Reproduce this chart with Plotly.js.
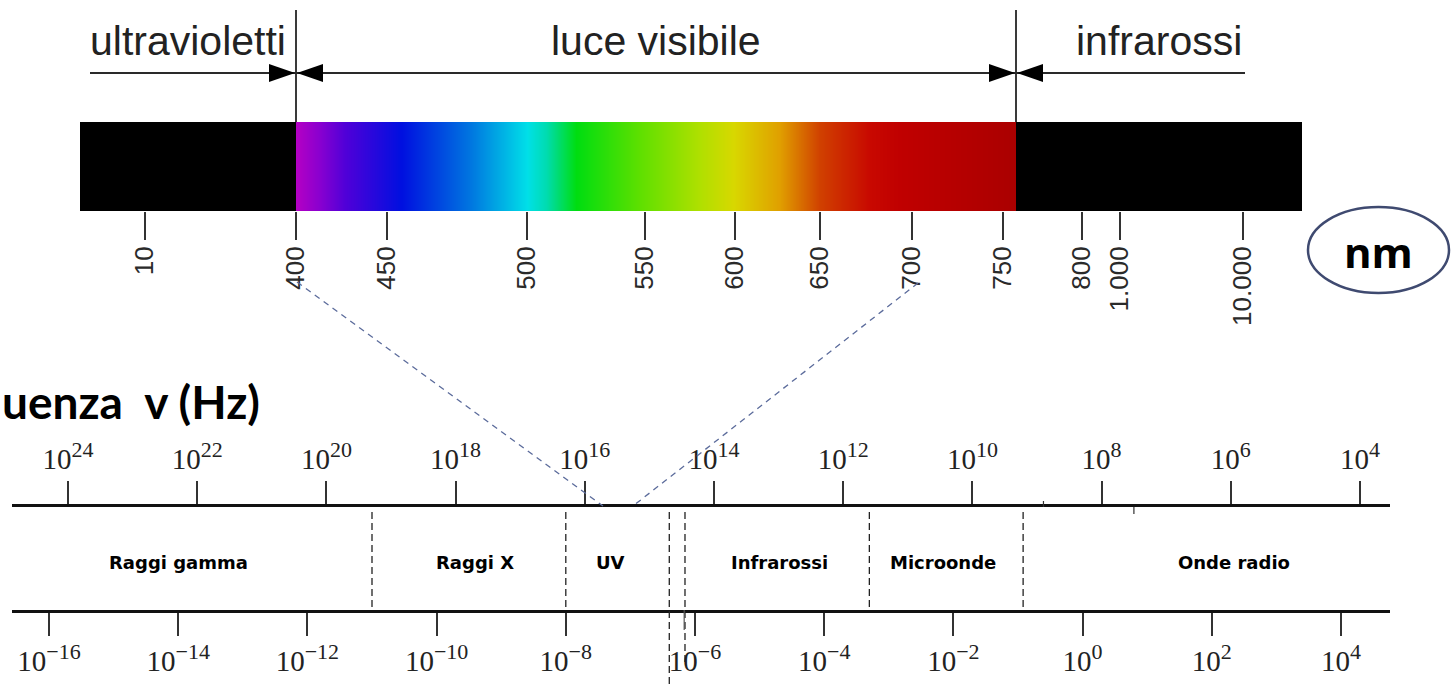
<!DOCTYPE html>
<html><head><meta charset="utf-8">
<script src="https://cdn.plot.ly/plotly-3.0.1.min.js"></script>
<style>html,body{margin:0;padding:0;background:#fff}</style>
</head><body><div id="chart" style="width:1451px;height:686px"></div>
<script>
// ---------------- DATA ----------------
const nmTicks = [10, 400, 450, 500, 550, 600, 650, 700, 750, 800, 1000, 10000];
const nmTickLabels = ['10','400','450','500','550','600','650','700','750','800','1.000','10.000'];
const visibleRangeNm = [400, 760];
const regionNames = ['ultravioletti', 'luce visibile', 'infrarossi'];
const spectrumNm = [400, 413, 427, 455, 480, 500, 508, 521, 548, 580, 599, 626, 650, 677, 693, 740, 760];
const spectrumColors = ['#b400c4','#8a00d0','#5000d8','#0010e0','#0078e0','#00e0e8','#00dcb0','#00dd10','#60e000','#b0e000','#d8d800','#e0a000','#d04000','#c80800','#c00000','#b00000','#aa0000'];
const freqExponents = [24, 22, 20, 18, 16, 14, 12, 10, 8, 6, 4];
const wlExponents = [-16, -14, -12, -10, -8, -6, -4, -2, 0, 2, 4];
const bandNames = ['Raggi gamma', 'Raggi X', 'UV', 'Infrarossi', 'Microonde', 'Onde radio'];
const bandBoundariesM = [1e-11, 1e-8, 4e-7, 7e-7, 5e-4, 1.2e-1];
const bandLabelM = [1e-14, 4e-10, 5e-8, 2e-5, 7e-3, 2.2e2];
const freqTitle = 'uenza  v (Hz)';
const unitLabel = 'nm';

// ---------------- SCALES / LAYOUT CONSTANTS ----------------
const W = 1451, H = 686;
const px = p => p / W, py = p => 1 - p / H;
// schematic (non-uniform) wavelength scale of the upper bar
const nmScale = [[10,145],[400,296],[450,387],[500,527],[550,645],[600,735],[650,820],[700,912],[750,1003],[760,1016],[800,1082],[1000,1120],[10000,1243]];
function nmToPos(nm) {
  for (let i = 0; i < nmScale.length - 1; i++) {
    const [a, pa] = nmScale[i], [b, pb] = nmScale[i + 1];
    if (nm <= b || i === nmScale.length - 2) return pa + (nm - a) / (b - a) * (pb - pa);
  }
}
const barL = 80, barR = 1302, barTop = 122, barBot = 211;
const lineL = 12, lineR = 1390, lineTop = 507, lineBot = 610;
const decade = 64.6;
const freqRange = [24 + (68 - lineL) / decade, 24 - (lineR - 68) / decade];
const wlRange = [-16 - (49 - lineL) / decade, -16 + (lineR - 49) / decade];

const sup = s => '10<sup><span style="font-size:22px">' + s + '</span></sup>';
const fmtExp = e => (e < 0 ? '\u2212' + (-e) : String(e));

const pV0 = nmToPos(visibleRangeNm[0]), pV1 = nmToPos(visibleRangeNm[1]);
const arrowY = 73;

// ---------------- TRACES ----------------
const zmin = spectrumNm[0], zmax = spectrumNm[spectrumNm.length - 1];
const colorscale = spectrumNm.map((w, i) => [(w - zmin) / (zmax - zmin), spectrumColors[i]]);
const traces = [
  {
    type: 'heatmap', xaxis: 'x', yaxis: 'y',
    x: spectrumNm.map(nmToPos), y: [barTop, (barTop + barBot) / 2, barBot],
    z: [spectrumNm, spectrumNm], zmin, zmax, colorscale, zsmooth: 'best',
    showscale: false, hoverinfo: 'skip'
  },
  { type: 'scatter', xaxis: 'x2', yaxis: 'y2', x: [1e10], y: [5], mode: 'markers', hoverinfo: 'skip', showlegend: false },
  { type: 'scatter', xaxis: 'x3', yaxis: 'y2', x: [1e-3], y: [5], mode: 'markers', hoverinfo: 'skip', showlegend: false }
];

// ---------------- SHAPES ----------------
const shapes = [];
shapes.push({type:'rect', xref:'x', yref:'y', x0:barL, x1:pV0, y0:barTop, y1:barBot, fillcolor:'#000', line:{width:0}, layer:'above'});
shapes.push({type:'rect', xref:'x', yref:'y', x0:pV1, x1:barR, y0:barTop, y1:barBot, fillcolor:'#000', line:{width:0}, layer:'above'});
[pV0, pV1].forEach(p => shapes.push({type:'line', xref:'x', yref:'y', x0:p, x1:p, y0:10, y1:barTop, line:{color:'#3a3a3a', width:2}}));
[[90, pV0], [pV0, pV1], [pV1, nmToPos(10000) + 2]].forEach(([a, b]) =>
  shapes.push({type:'line', xref:'x', yref:'y', x0:a, x1:b, y0:arrowY, y1:arrowY, line:{color:'#2a2a2a', width:2}}));
function head(tip, dir) {
  const b = tip + dir * 26;
  return {type:'path', xref:'x', yref:'y', path:`M ${tip},${arrowY} L ${b},${arrowY - 9} L ${b},${arrowY + 9} Z`, fillcolor:'#000', line:{width:0}};
}
shapes.push(head(pV0 - 1, -1), head(pV0 + 1, 1), head(pV1 - 1, -1), head(pV1 + 1, 1));
const bandLineBottom = [607, 609, 686, 662, 607, 607];
bandBoundariesM.forEach((b, i) => shapes.push({type:'line', xref:'x3', yref:'paper', x0:b, x1:b, y0:py(lineTop + 5), y1:py(bandLineBottom[i]), line:{color:'#222', width:1.3, dash:'7px,4px'}}));
// small stray marks on the frequency line
shapes.push({type:'line', xref:'x2', yref:'paper', x0:Math.pow(10, 8.9), x1:Math.pow(10, 8.9), y0:py(lineTop - 6), y1:py(lineTop), line:{color:'#333', width:1.2}});
shapes.push({type:'line', xref:'x2', yref:'paper', x0:Math.pow(10, 7.5), x1:Math.pow(10, 7.5), y0:py(lineTop), y1:py(lineTop + 7), line:{color:'#333', width:1.2}});
shapes.push({type:'line', xref:'x3', yref:'paper', x0:6.8e-7, x1:6.8e-7, y0:py(lineBot), y1:py(lineBot + 20), line:{color:'#555', width:1.2}});
// connector lines
shapes.push({type:'line', xref:'paper', yref:'paper', x0:px(nmToPos(400) + 1), y0:py(282), x1:px(603), y1:py(lineTop - 1), line:{color:'#5b6b9b', width:1.3, dash:'6px,5px'}});
shapes.push({type:'line', xref:'paper', yref:'paper', x0:px(nmToPos(700) + 6), y0:py(283), x1:px(633), y1:py(lineTop - 1), line:{color:'#5b6b9b', width:1.3, dash:'6px,5px'}});
shapes.push({type:'circle', xref:'paper', yref:'paper', x0:px(1308), x1:px(1449), y0:py(207), y1:py(293), line:{color:'#3f4a70', width:2.5}});

// ---------------- ANNOTATIONS ----------------
const annotations = [];
const regionCenters = [(barL + pV0) / 2, (pV0 + pV1) / 2, (pV1 + barR) / 2];
regionNames.forEach((t, i) => annotations.push({xref:'x', yref:'y', x:regionCenters[i], y:41, text:t, showarrow:false,
  xanchor:'center', yanchor:'middle', font:{family:'Liberation Sans, Arial, sans-serif', size:41, color:'#222'}}));
bandNames.forEach((t, i) => annotations.push({xref:'x3', yref:'y2', x:Math.log10(bandLabelM[i]), y:0.46, text:'<b>' + t + '</b>', showarrow:false,
  xanchor:'center', yanchor:'middle', font:{family:'DejaVu Sans, sans-serif', size:18, color:'#000'}}));
annotations.push({xref:'paper', yref:'paper', x:0, y:py(401), text:'<b>' + freqTitle + '</b>', showarrow:false,
  xanchor:'left', yanchor:'middle', font:{family:'Lato, Open Sans, sans-serif', size:46, color:'#000'}});
annotations.push({xref:'paper', yref:'paper', x:px(1378), y:py(252), text:'<b>' + unitLabel + '</b>', showarrow:false,
  xanchor:'center', yanchor:'middle', font:{family:'Open Sans, sans-serif', size:42, color:'#000'}});

// ---------------- LAYOUT ----------------
const serif = {family:'Liberation Serif, Times New Roman, serif', size:29, color:'#222'};
const layout = {
  width: W, height: H, margin: {l:0, r:0, t:0, b:0},
  paper_bgcolor: '#fff', plot_bgcolor: 'rgba(0,0,0,0)', showlegend: false,
  xaxis: {domain:[px(barL), px(barR)], range:[barL, barR], anchor:'y', showgrid:false, zeroline:false, showline:false,
    ticks:'outside', ticklen:28, tickwidth:2, tickcolor:'#333', ticklabelstandoff:-4,
    tickmode:'array', tickvals:nmTicks.map(nmToPos), ticktext:nmTickLabels, tickangle:-90,
    tickfont:{family:'Liberation Sans, Arial, sans-serif', size:26, color:'#2a2a2a'}, fixedrange:true},
  yaxis: {domain:[py(barBot), 1], range:[barBot, 0], visible:false, fixedrange:true},
  xaxis2: {type:'log', domain:[px(lineL), px(lineR)], range:freqRange, anchor:'y2', side:'top',
    showline:true, linewidth:3, linecolor:'#111', showgrid:false, zeroline:false,
    ticks:'outside', ticklen:23, tickwidth:1.5, tickcolor:'#333',
    tickmode:'array', tickvals:freqExponents.map(e => Math.pow(10, e)), ticktext:freqExponents.map(e => sup(fmtExp(e))),
    tickfont:serif, fixedrange:true},
  xaxis3: {type:'log', overlaying:'x2', range:wlRange, anchor:'y2', side:'bottom',
    showline:true, linewidth:3, linecolor:'#111', showgrid:false, zeroline:false,
    ticks:'outside', ticklen:23, tickwidth:1.5, tickcolor:'#333',
    tickmode:'array', tickvals:wlExponents.map(e => Math.pow(10, e)), ticktext:wlExponents.map(e => sup(fmtExp(e))),
    tickfont:serif, fixedrange:true},
  yaxis2: {domain:[py(lineBot), py(lineTop)], range:[0, 1], visible:false, fixedrange:true},
  shapes, annotations
};
Plotly.newPlot('chart', traces, layout, {displayModeBar:false});
</script></body></html>
